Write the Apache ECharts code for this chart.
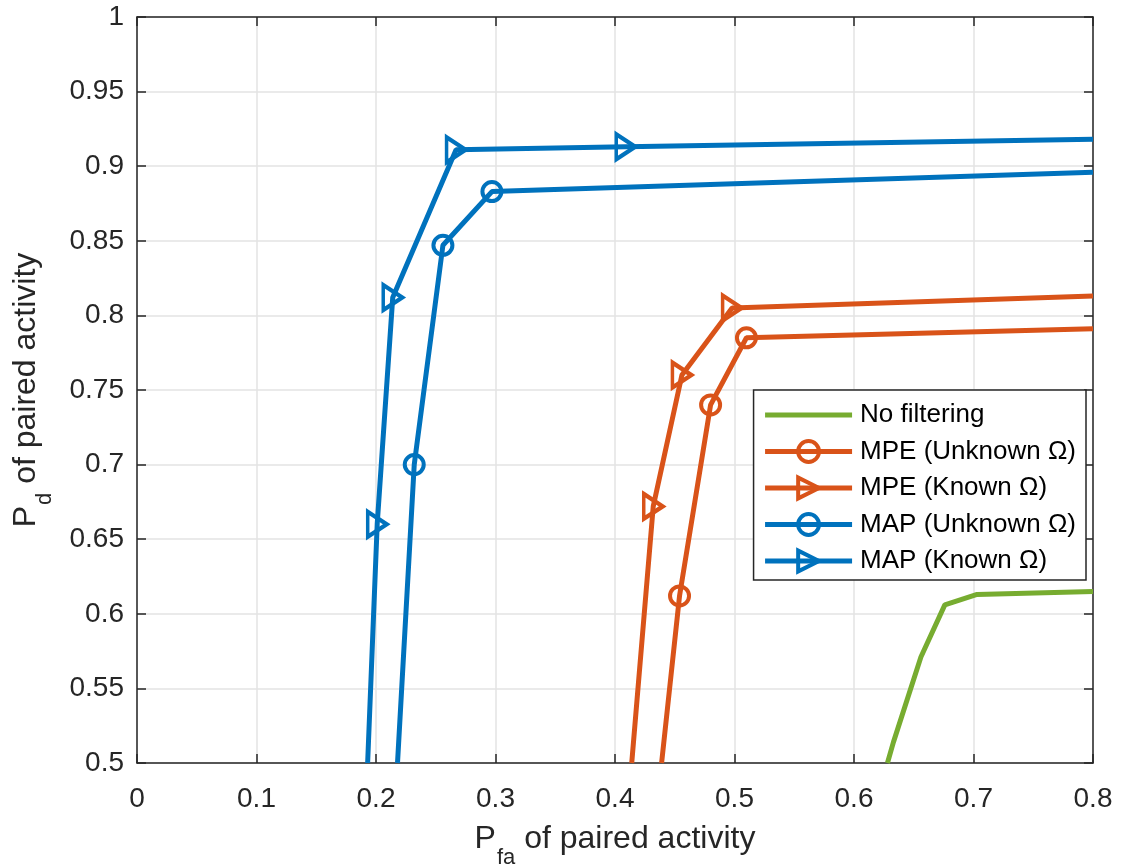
<!DOCTYPE html>
<html>
<head>
<meta charset="utf-8">
<script src="https://cdn.jsdelivr.net/npm/echarts@6/dist/echarts.min.js"></script>
<style>
  html, body { margin: 0; padding: 0; background: #fff; }
  #chart { width: 1122px; height: 867px; }
</style>
</head>
<body>
<div id="chart"></div>
<script>
// tick labels
const xTicks = [0, 0.1, 0.2, 0.3, 0.4, 0.5, 0.6, 0.7, 0.8];
const yTicks = [0.5, 0.55, 0.6, 0.65, 0.7, 0.75, 0.8, 0.85, 0.9, 0.95, 1];

const names = ["No filtering", "MPE (Unknown Ω)", "MPE (Known Ω)", "MAP (Unknown Ω)", "MAP (Known Ω)"];

// No filtering
const noFiltX = [0.628, 0.633, 0.656, 0.676, 0.703, 0.8];
const noFiltY = [0.5, 0.514, 0.571, 0.606, 0.613, 0.615];

// MPE (Unknown Ω)
const mpeUnkX = [0.439, 0.454, 0.480, 0.510, 0.8];
const mpeUnkY = [0.5, 0.612, 0.740, 0.785, 0.791];
const mpeUnkMark = [0, 1, 1, 1, 0];

// MPE (Known Ω)
const mpeKnX = [0.414, 0.432, 0.456, 0.498, 0.8];
const mpeKnY = [0.5, 0.672, 0.760, 0.805, 0.813];
const mpeKnMark = [0, 1, 1, 1, 0];

// MAP (Unknown Ω)
const mapUnkX = [0.218, 0.232, 0.256, 0.297, 0.8];
const mapUnkY = [0.5, 0.700, 0.847, 0.883, 0.896];
const mapUnkMark = [0, 1, 1, 1, 0];

// MAP (Known Ω)
const mapKnX = [0.193, 0.201, 0.214, 0.267, 0.409, 0.8];
const mapKnY = [0.5, 0.660, 0.812, 0.911, 0.913, 0.918];
const mapKnMark = [0, 1, 1, 1, 1, 0];

const blue = "#0072BD";
const orange = "#D95319";
const green = "#77AC30";
const tri = "path://M0,0 L17,10 L0,20 Z";
const font = "Liberation Sans, Arial, sans-serif";

function pts(xs, ys, marks) {
  return xs.map((x, i) => {
    const item = { value: [x, ys[i]] };
    if (!marks || !marks[i]) item.symbol = "none";
    return item;
  });
}

function lineSeries(name, color, data, symbol, size) {
  return {
    name: name,
    type: "line",
    data: data,
    symbol: symbol || "none",
    symbolSize: size || 0,
    showSymbol: !!symbol,
    clip: true,
    lineStyle: { color: color, width: 5 },
    itemStyle: symbol
      ? { color: "rgba(255,255,255,0)", borderColor: color, borderWidth: 4 }
      : { color: color },
    emphasis: { disabled: true },
    z: 3,
  };
}

const nameRich = {
  p: { fontSize: 32, color: "#262626", fontFamily: font },
  s: { fontSize: 22, color: "#262626", fontFamily: font, padding: [38, 0, 0, 1] },
};

const axisLine = { show: true, onZero: false, lineStyle: { color: "#262626", width: 1.5 } };
const axisTick = { show: true, inside: true, length: 9, lineStyle: { color: "#262626", width: 1.5 } };
const gridLine = { show: true, lineStyle: { color: "#e3e3e3", width: 1.5 } };
const fmt = v => String(+v.toFixed(2));

const chart = echarts.init(document.getElementById("chart"));

chart.setOption({
  animation: false,
  textStyle: { fontFamily: font },
  grid: { left: 137, right: 29, top: 17, bottom: 104, show: false, containLabel: false, outerBoundsMode: "none" },
  xAxis: [
    {
      type: "value", min: 0, max: 0.8, interval: 0.1,
      name: "{p|P}{s|fa}{p| of paired activity}",
      nameLocation: "middle", nameGap: 46,
      nameTextStyle: { rich: nameRich },
      axisLine: axisLine, axisTick: axisTick,
      axisLabel: { margin: 22, formatter: fmt, fontFamily: font, fontSize: 28, color: "#262626" },
      splitLine: gridLine,
    },
    {
      type: "value", min: 0, max: 0.8, interval: 0.1, position: "top",
      axisLine: axisLine, axisTick: axisTick,
      axisLabel: { show: false }, splitLine: { show: false },
    },
  ],
  yAxis: [
    {
      type: "value", min: 0.5, max: 1, interval: 0.05,
      name: "{p|P}{s|d}{p| of paired activity}",
      nameLocation: "middle", nameGap: 81, nameRotate: 90,
      nameTextStyle: { rich: nameRich },
      axisLine: axisLine, axisTick: axisTick,
      axisLabel: { margin: 13, formatter: fmt, fontFamily: font, fontSize: 28, color: "#262626" },
      splitLine: gridLine,
    },
    {
      type: "value", min: 0.5, max: 1, interval: 0.05, position: "right",
      axisLine: axisLine, axisTick: axisTick,
      axisLabel: { show: false }, splitLine: { show: false },
    },
  ],
  legend: {
    orient: "vertical",
    right: 36, top: 390,
    data: [
      { name: names[0], icon: "path://M0,0 L87,0 L87,5 L0,5 Z", itemStyle: { color: green, borderWidth: 0 } },
      names[1], names[2], names[3], names[4],
    ],
    itemWidth: 87, itemHeight: 26, itemGap: 10.5,
    padding: [12, 10, 6, 9],
    backgroundColor: "#fff",
    borderColor: "#262626", borderWidth: 1.5, borderRadius: 0,
    textStyle: { fontSize: 26, color: "#000", fontFamily: font, padding: [0, 0, 0, 3] },
    lineStyle: { width: 5 },
    itemStyle: { borderWidth: 4 },
  },
  series: [
    lineSeries(names[0], green, pts(noFiltX, noFiltY, null), null, 0),
    lineSeries(names[1], orange, pts(mpeUnkX, mpeUnkY, mpeUnkMark), "circle", 19),
    lineSeries(names[2], orange, pts(mpeKnX, mpeKnY, mpeKnMark), tri, [19, 25]),
    lineSeries(names[3], blue, pts(mapUnkX, mapUnkY, mapUnkMark), "circle", 19),
    lineSeries(names[4], blue, pts(mapKnX, mapKnY, mapKnMark), tri, [19, 25]),
  ],
});
</script>
</body>
</html>
